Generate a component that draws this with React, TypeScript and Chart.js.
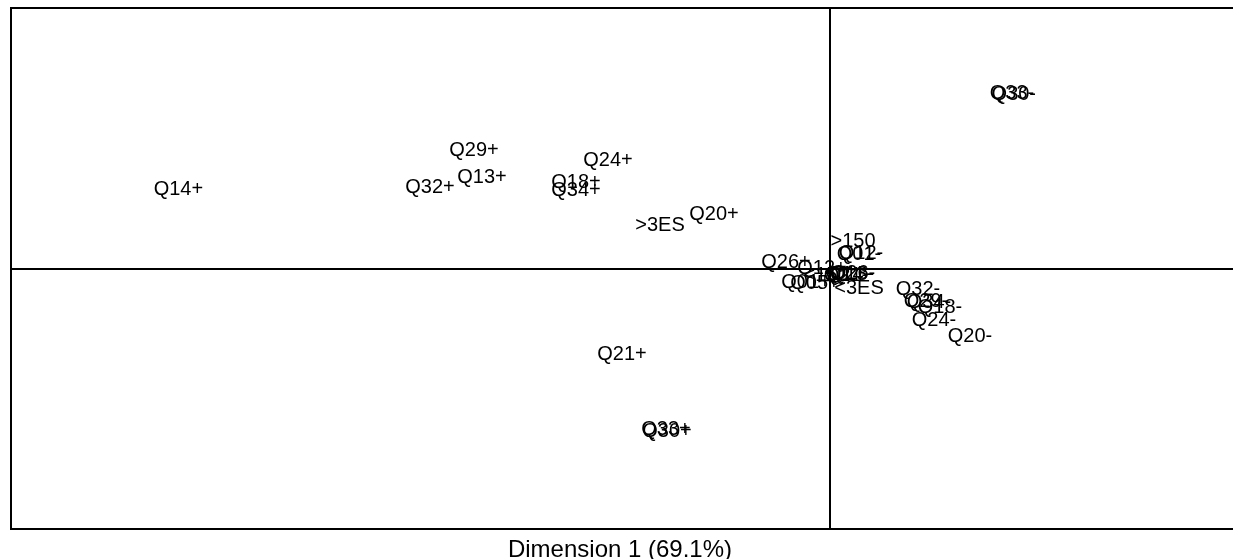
import React, { useEffect, useRef } from "react";
import { Chart, registerables } from "chart.js";

Chart.register(...registerables);

const labels: string[] = [
  "Q14+", "Q29+", "Q13+", "Q32+", "Q24+", "Q18+", "Q34+", ">3ES", "Q20+", "Q21+",
  "Q33+", "Q30+", "Q33-", "Q30-", ">150", "Q12-", "Q01-", "Q26+", "Q12+", "<150",
  "Q14-", "Q13-", "Q21-", "Q26-", "Q01+", "Q05+", "<3ES", "Q32-", "Q29-", "Q34-",
  "Q18-", "Q24-", "Q20-",
];
const dim1: number[] = [
  -1.629, -0.89, -0.87, -1.0, -0.555, -0.635, -0.635, -0.425, -0.29, -0.52,
  -0.41, -0.4075, 0.455, 0.4595, 0.0575, 0.0775, 0.0725, -0.11, -0.02, -0.01,
  0.045, 0.055, 0.04, 0.0575, -0.06, -0.0375, 0.0725, 0.22, 0.24, 0.2475,
  0.275, 0.26, 0.35,
];
const dim2: number[] = [
  0.4, 0.595, 0.46, 0.41, 0.545, 0.435, 0.395, 0.22, 0.275, -0.425,
  -0.8, -0.81, 0.88, 0.875, 0.14, 0.08, 0.075, 0.035, 0.005, -0.03,
  -0.025, -0.025, -0.03, -0.02, -0.065, -0.07, -0.095, -0.1, -0.16, -0.165,
  -0.19, -0.255, -0.335,
];
const xTitle = "Dimension 1 (69.1%)";

const labelPlugin = {
  id: "mcaLabels",
  afterDatasetsDraw(chart: any) {
    const ctx = chart.ctx;
    const area = chart.chartArea;
    const xs = chart.scales.x;
    const ys = chart.scales.y;
    ctx.save();
    ctx.strokeStyle = "#000";
    ctx.lineWidth = 2;
    ctx.beginPath();
    ctx.moveTo(area.right + 5, area.top);
    ctx.lineTo(area.left, area.top);
    ctx.lineTo(area.left, area.bottom);
    ctx.lineTo(area.right + 5, area.bottom);
    ctx.stroke();
    const x0 = Math.round(xs.getPixelForValue(0));
    const y0 = Math.round(ys.getPixelForValue(0));
    ctx.beginPath();
    ctx.moveTo(area.left, y0);
    ctx.lineTo(area.right + 5, y0);
    ctx.moveTo(x0, area.top);
    ctx.lineTo(x0, area.bottom);
    ctx.stroke();
    ctx.fillStyle = "#000";
    ctx.font = "20px 'Liberation Sans', Arial, sans-serif";
    ctx.textAlign = "center";
    ctx.textBaseline = "middle";
    const meta = chart.getDatasetMeta(0);
    meta.data.forEach((pt: any, i: number) => {
      ctx.fillText(labels[i], pt.x, pt.y);
    });
    ctx.font = "24px 'Liberation Sans', Arial, sans-serif";
    ctx.textBaseline = "alphabetic";
    ctx.fillText(xTitle, 620, 557);
    ctx.restore();
  },
};

export default function App() {
  const ref = useRef<HTMLCanvasElement>(null);
  useEffect(() => {
    if (!ref.current) return;
    const chart = new Chart(ref.current, {
      type: "scatter",
      data: {
        datasets: [
          {
            data: dim1.map((x, i) => ({ x, y: dim2[i] })),
            pointRadius: 0,
            pointHoverRadius: 0,
          },
        ],
      },
      options: {
        responsive: false,
        animation: false,
        layout: { padding: { left: 11, top: 8, right: 0, bottom: 30 } },
        plugins: { legend: { display: false }, tooltip: { enabled: false } },
        scales: {
          x: { type: "linear", display: false, min: -2.0475, max: 1.0075 },
          y: { type: "linear", display: false, min: -1.3, max: 1.305 },
        },
      },
      plugins: [labelPlugin],
    });
    return () => chart.destroy();
  }, []);
  return (
    <div style={{ position: "absolute", left: 0, top: 0, width: 1233, height: 559, background: "#fff" }}>
      <canvas ref={ref} width={1233} height={559} style={{ display: "block" }} />
    </div>
  );
}
